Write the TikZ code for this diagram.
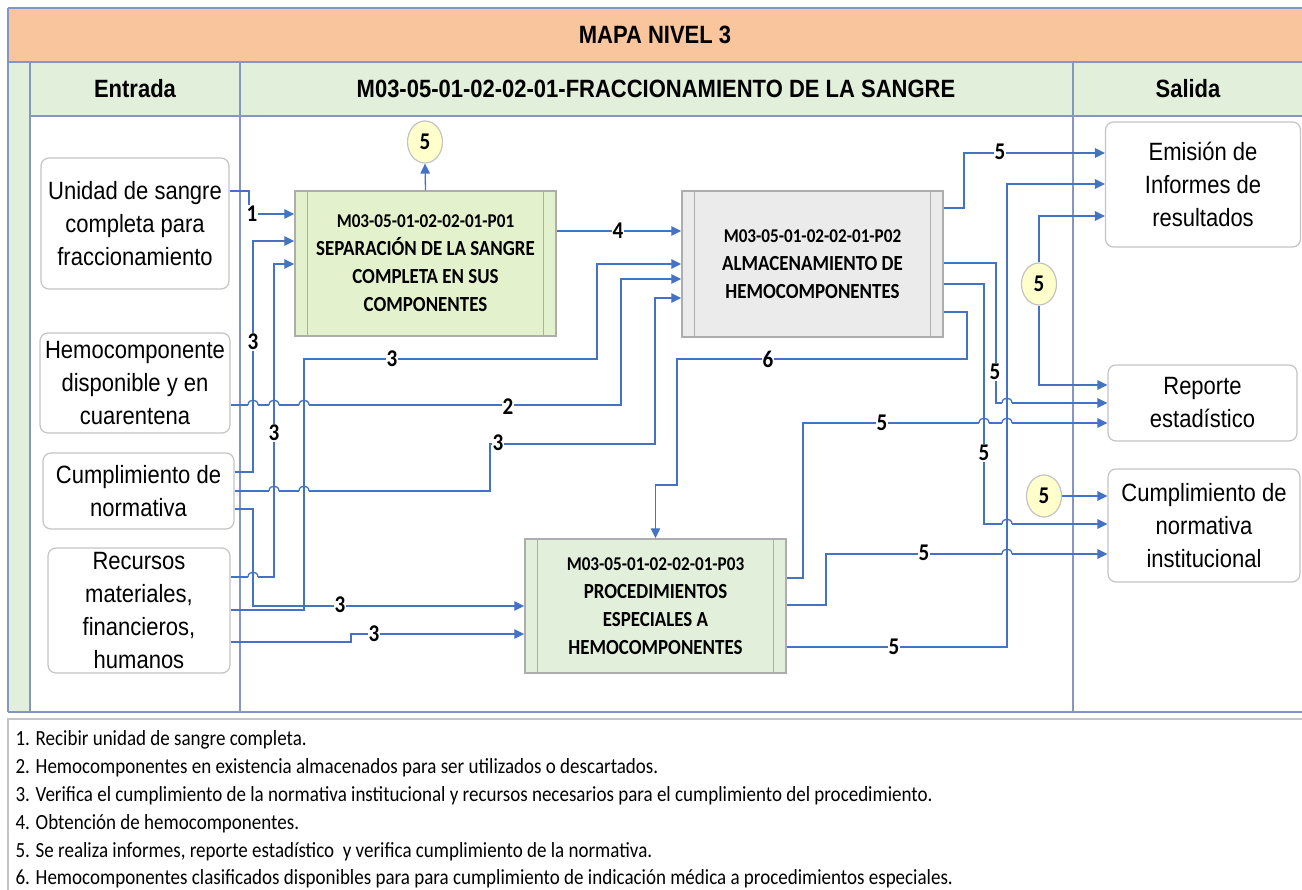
\documentclass[tikz,border=0pt]{standalone}
\usepackage{fontspec}
\setmainfont{Liberation Sans}[FakeStretch=0.88]
\newfontfamily\calfont{Carlito}[FakeStretch=0.88]
\usetikzlibrary{arrows.meta, positioning, shapes}
\tikzset{
	% connector styles
	link/.style={draw=linkblue, line width=1.3pt},
	pil/.style={
		link,
		-{Triangle[length=10pt,width=9.5pt]}
	},
	% boxes
	inbox/.style={rectangle, rounded corners=8pt, draw=boxgray, line width=1.2pt, fill=white, align=center, inner sep=0pt, font=\fontsize{25}{33}\selectfont},
	procbox/.style={rectangle, draw=procline, line width=1.5pt, align=center, inner sep=0pt, font=\calfont\bfseries\fontsize{21.5}{28}\selectfont},
	note/.style={ellipse, draw=boxgray, fill=notefill, line width=1.2pt, minimum width=35pt, minimum height=42pt, inner sep=0pt, font=\calfont\bfseries\fontsize{24}{24}\selectfont},
	num/.style={fill=white, inner sep=0.8pt, font=\calfont\bfseries\fontsize{24}{24}\selectfont},
	hdr/.style={font=\bfseries\fontsize{25}{25}\selectfont},
	legend/.style={anchor=base west, font=\calfont\fontsize{21.6}{21.6}\selectfont},
	grid/.style={draw=gridblue, line width=1.2pt}
}
\definecolor{bandorange}{HTML}{F8C59C}
\definecolor{headgreen}{HTML}{E2EFDA}
\definecolor{gridblue}{HTML}{8497C4}
\definecolor{linkblue}{HTML}{4472C4}
\definecolor{boxgray}{HTML}{C4C4C4}
\definecolor{procline}{HTML}{ADADAD}
\definecolor{pgreen}{HTML}{E4F1CD}
\definecolor{pgray}{HTML}{EBEBEB}
\definecolor{pgreenlt}{HTML}{E2EFDA}
\definecolor{notefill}{HTML}{FFFFCC}

% line hop over a vertical connector
\newcommand{\hop}[2]{%
	\draw[white, line width=3pt] (#1-5,#2) -- (#1+5,#2);
	\draw[link] (#1,#2-4) -- (#1,#2+4);
	\draw[link] (#1-5,#2) .. controls (#1-5,#2-6.5) and (#1+5,#2-6.5) .. (#1+5,#2);
}

\begin{document}
\begin{tikzpicture}[x=1pt, y=-1pt]
\useasboundingbox (0,0) rectangle (1302,890);

% frame
\fill[bandorange] (8,8) rectangle (1302,62);
\fill[headgreen] (8,62) rectangle (1302,116);
\fill[headgreen] (8,116) rectangle (30,712);
\draw[grid] (8,8) -- (1302,8);
\draw[grid] (8,62) -- (1302,62);
\draw[grid] (30,116) -- (1302,116);
\draw[grid] (8,712) -- (1302,712);
\draw[grid] (8,8) -- (8,712);
\draw[grid] (30,62) -- (30,712);
\draw[grid] (240,62) -- (240,712);
\draw[grid] (1073,62) -- (1073,712);

\node[hdr] (titulo) at (655,35) {MAPA NIVEL 3};
\node[hdr] (hentrada) at (135,89) {Entrada};
\node[hdr] (hproceso) at (656,89) {M03-05-01-02-02-01-FRACCIONAMIENTO DE LA SANGRE};
\node[hdr] (hsalida) at (1188,89) {Salida};

% entradas
\node[inbox, minimum width=188pt, minimum height=131pt] at (135,223.5) (unidad) {Unidad de sangre\\completa para\\fraccionamiento};
\node[inbox, minimum width=190pt, minimum height=100pt] at (135,383) (hemo) {Hemocomponente\\disponible y en\\cuarentena};
\node[inbox, minimum width=191pt, minimum height=76pt] at (138.5,491) (cumpl) {Cumplimiento de\\normativa};
\node[inbox, minimum width=182pt, minimum height=125pt] at (139,610.5) (recur) {Recursos\\materiales,\\financieros,\\humanos};

% salidas
\node[inbox, minimum width=195pt, minimum height=125pt] at (1203,184.5) (emision) {Emisión de\\Informes de\\resultados};
\node[inbox, minimum width=189pt, minimum height=76pt] at (1202.5,403) (reporte) {Reporte\\estadístico};
\node[inbox, minimum width=192pt, minimum height=113pt] at (1204,525.5) (cumplinst) {Cumplimiento de\\normativa\\institucional};

% procesos
\node[procbox, fill=pgreen, minimum width=261pt, minimum height=145pt] at (425.5,263.5) (p1) {{\fontsize{19.5}{28}\selectfont M03-05-01-02-02-01-P01}\\SEPARACIÓN DE LA SANGRE\\COMPLETA EN SUS\\COMPONENTES};
\node[procbox, fill=pgray, minimum width=261pt, minimum height=146pt] at (812.5,264) (p2) {{\fontsize{19.5}{28}\selectfont M03-05-01-02-02-01-P02}\\ALMACENAMIENTO DE\\HEMOCOMPONENTES};
\node[procbox, fill=pgreenlt, minimum width=261pt, minimum height=134pt] at (655.5,606) (p3) {{\fontsize{19.5}{28}\selectfont M03-05-01-02-02-01-P03}\\PROCEDIMIENTOS\\ESPECIALES A\\HEMOCOMPONENTES};
\foreach \p in {p1,p2,p3} {
	\draw[procline, line width=1.2pt] ([xshift=13pt]\p.north west) -- ([xshift=13pt]\p.south west);
	\draw[procline, line width=1.2pt] ([xshift=-13pt]\p.north east) -- ([xshift=-13pt]\p.south east);
}

% notas 5
\node[note] at (425,142) (n1) {5};
\node[note] at (1039,284) (n2) {5};
\node[note] at (1044,496) (n3) {5};

% entradas hacia procesos
\draw[pil] (unidad.east |- 0,191) -| (249,214) -- (p1.west |- 0,214);
\draw[pil] (cumpl.east |- 0,472) -| (253,241) -- (p1.west |- 0,241);
\draw[pil] (recur.east |- 0,577) -| (274,264) -- (p1.west |- 0,264);
\draw[pil] (recur.east |- 0,610) -| (304,359) -| (597,264) -- (p2.west |- 0,264);
\draw[pil] (hemo.east |- 0,405) -| (621,279) -- (p2.west |- 0,279);
\draw[pil] (cumpl.east |- 0,491) -| (490,444) -| (655,298) -- (p2.west |- 0,298);
\draw[pil] (cumpl.east |- 0,509) -| (253,606) -- (p3.west |- 0,606);
\draw[pil] (recur.east |- 0,642) -| (351,634) -- (p3.west |- 0,634);

% entre procesos
\draw[pil] (p1.east |- 0,231) -- (p2.west |- 0,231);
\draw[pil] (p1.north) -- (n1.south);
\draw[pil] (p2.east |- 0,312) -| (967,359) -| (677,485) -| (p3.north);

% salidas
\draw[pil] (p2.east |- 0,208) -| (964,153) -- (emision.west |- 0,153);
\draw[pil] (p2.east |- 0,263) -| (996,403) -- (reporte.west |- 0,403);
\draw[pil] (p2.east |- 0,284) -| (984,524) -- (cumplinst.west |- 0,524);
\draw[pil] (n2.north) |- (emision.west |- 0,216);
\draw[pil] (n2.south) |- (reporte.west |- 0,385);
\draw[pil] (n3.east) -- (cumplinst.west |- n3.east);
\draw[pil] (p3.east |- 0,578) -| (803,423) -- (reporte.west |- 0,423);
\draw[pil] (p3.east |- 0,605) -| (826,554) -- (cumplinst.west |- 0,554);
\draw[pil] (p3.east |- 0,647) -| (1007,184) -- (emision.west |- 0,184);

% saltos de linea
\hop{253}{405} \hop{274}{405} \hop{304}{405}
\hop{274}{491} \hop{304}{491}
\hop{253}{577}
\hop{1007}{403}
\hop{984}{423} \hop{1007}{423}
\hop{1007}{524} \hop{1007}{554}

% numeros
\node[num] at (252,214) (e1) {1};
\node[num] at (253,342) (e3a) {3};
\node[num] at (274,433) (e3b) {3};
\node[num] at (392,359) (e3c) {3};
\node[num] at (498,443) (e3d) {3};
\node[num] at (340,605) (e3e) {3};
\node[num] at (374,634) (e3f) {3};
\node[num] at (508,407) (e2) {2};
\node[num] at (618,231) (e4) {4};
\node[num] at (768,359) (e6) {6};
\node[num] at (1000,152) (e5a) {5};
\node[num] at (995,372) (e5b) {5};
\node[num] at (882,423) (e5c) {5};
\node[num] at (984,453) (e5d) {5};
\node[num] at (924,553) (e5e) {5};
\node[num] at (894,647) (e5f) {5};

% leyenda
\draw[boxgray, line width=1.2pt] (8,719) rectangle (1320,900);
\node[legend] at (12,745) (nota1) {1. Recibir unidad de sangre completa.};
\node[legend] at (12,773) (nota2) {2. Hemocomponentes en existencia almacenados para ser utilizados o descartados.};
\node[legend] at (12,801) (nota3) {3. Verifica el cumplimiento de la normativa institucional y recursos necesarios para el cumplimiento del procedimiento.};
\node[legend] at (12,829) (nota4) {4. Obtención de hemocomponentes.};
\node[legend] at (12,857) (nota5) {5. Se realiza informes, reporte estadístico\ \ y verifica cumplimiento de la normativa.};
\node[legend] at (12,884) (nota6) {6. Hemocomponentes clasificados disponibles para para cumplimiento de indicación médica a procedimientos especiales.};

\end{tikzpicture}
\end{document}
